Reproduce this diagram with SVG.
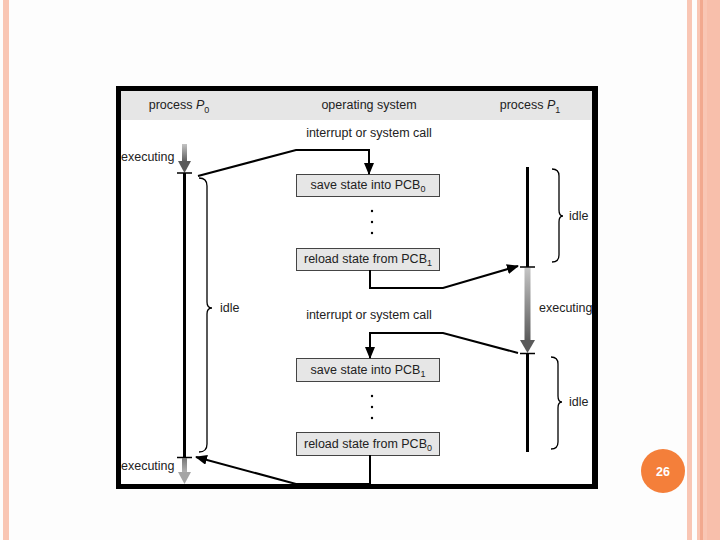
<svg xmlns="http://www.w3.org/2000/svg" width="720" height="540" viewBox="0 0 720 540">
<style>
  text { font-family: "Liberation Sans", Arial, sans-serif; font-size: 12.5px; fill: #222; }
  .mid { text-anchor: middle; }
  .sub { font-size: 9px; }
  .box { fill: #e6e6e6; stroke: #444; stroke-width: 1; }
  .conn { fill: none; stroke: #000; stroke-width: 2; }
  .brace { fill: none; stroke: #000; stroke-width: 1.3; }
  .tl { stroke: #000; stroke-width: 3; }
  .bar { stroke: #000; stroke-width: 1.5; }
</style>
<defs>
  <marker id="ah" markerUnits="userSpaceOnUse" markerWidth="12" markerHeight="10" viewBox="0 0 12 10" refX="11" refY="5" orient="auto">
    <path d="M0,0 L12,5 L0,10 Z" fill="#000"/>
  </marker>
  <linearGradient id="g" x1="0" y1="0" x2="0" y2="1">
    <stop offset="0" stop-color="#c4c4c4"/>
    <stop offset="1" stop-color="#5a5a5a"/>
  </linearGradient>
  <linearGradient id="g2" x1="0" y1="0" x2="0" y2="1">
    <stop offset="0" stop-color="#777"/>
    <stop offset="1" stop-color="#b5b5b5"/>
  </linearGradient>
</defs>

<!-- slide background -->
<rect x="0" y="0" width="720" height="540" fill="#fdfdfd"/>
<rect x="3" y="0" width="6" height="540" fill="#f9c6b4"/>
<rect x="687" y="0" width="5" height="540" fill="#f9c6b4"/>
<rect x="697" y="0" width="23" height="540" fill="#f9c6b4"/>
<rect x="700" y="0" width="3" height="540" fill="#f2a98f"/>
<rect x="707" y="0" width="13" height="540" fill="#f8bfab"/>

<!-- frame -->
<rect x="116" y="86" width="482" height="403" fill="#000"/>
<rect x="121" y="91" width="471" height="393" fill="#fff"/>
<rect x="121" y="91" width="471" height="29" fill="#e6e6e6"/>

<!-- headers -->
<g id="headers">
  <text x="179" y="109" class="mid">process <tspan font-style="italic">P</tspan><tspan class="sub" dy="4">0</tspan></text>
  <text x="369" y="109" class="mid">operating system</text>
  <text x="530" y="109" class="mid">process <tspan font-style="italic">P</tspan><tspan class="sub" dy="4">1</tspan></text>
</g>

<!-- labels -->
<g id="labels">
  <text x="369" y="137" class="mid">interrupt or system call</text>
  <text x="369" y="319" class="mid">interrupt or system call</text>
  <text x="121" y="161">executing</text>
  <text x="121" y="470">executing</text>
  <text x="539" y="312">executing</text>
  <text x="220" y="312">idle</text>
  <text x="569" y="220">idle</text>
  <text x="569" y="406">idle</text>
</g>

<!-- OS boxes -->
<g id="save0">
  <rect x="296.5" y="174.5" width="143" height="22" class="box"/>
  <text x="368" y="189" class="mid">save state into PCB<tspan class="sub" dy="3">0</tspan></text>
</g>
<g id="reload1">
  <rect x="296.5" y="248.5" width="143" height="22" class="box"/>
  <text x="368" y="263" class="mid">reload state from PCB<tspan class="sub" dy="3">1</tspan></text>
</g>
<g id="save1">
  <rect x="296.5" y="358.5" width="143" height="23" class="box"/>
  <text x="368" y="374" class="mid">save state into PCB<tspan class="sub" dy="3">1</tspan></text>
</g>
<g id="reload0">
  <rect x="296.5" y="432.5" width="143" height="23" class="box"/>
  <text x="368" y="448" class="mid">reload state from PCB<tspan class="sub" dy="3">0</tspan></text>
</g>

<!-- dots -->
<g id="dots" fill="#000">
  <circle cx="372" cy="211" r="1.2"/>
  <circle cx="372" cy="222" r="1.2"/>
  <circle cx="372" cy="233" r="1.2"/>
  <circle cx="372" cy="396" r="1.2"/>
  <circle cx="372" cy="407" r="1.2"/>
  <circle cx="372" cy="418" r="1.2"/>
</g>

<!-- timeline P0 -->
<g id="timelineP0">
  <rect x="182" y="144" width="5" height="18" fill="url(#g)"/>
  <path d="M178,161 L191,161 L184.5,173 Z" fill="#5a5a5a"/>
  <line x1="184.5" y1="173" x2="184.5" y2="457" class="tl"/>
  <line x1="177" y1="173" x2="192" y2="173" class="bar"/>
  <line x1="177" y1="457.5" x2="192" y2="457.5" class="bar"/>
  <rect x="182" y="458" width="5" height="15" fill="url(#g2)"/>
  <path d="M178,472 L191,472 L184.5,484 Z" fill="#a5a5a5"/>
  <path d="M199,178 Q207,178 207,186 L207,302 Q207,308 212,308 Q207,308 207,314 L207,444 Q207,452 199,452" class="brace"/>
</g>

<!-- timeline P1 -->
<g id="timelineP1">
  <line x1="527.5" y1="167" x2="527.5" y2="267" class="tl"/>
  <line x1="520" y1="267" x2="535" y2="267" class="bar"/>
  <rect x="524.5" y="268" width="6" height="73" fill="url(#g)"/>
  <path d="M520,340 L535,340 L527.5,353 Z" fill="#5a5a5a"/>
  <line x1="520" y1="353.5" x2="535" y2="353.5" class="bar"/>
  <line x1="527.5" y1="353" x2="527.5" y2="452" class="tl"/>
  <path d="M552,169 Q559,169 559,176 L559,210 Q559,216 563,216 Q559,216 559,222 L559,255 Q559,262 552,262" class="brace"/>
  <path d="M551,357 Q558,357 558,364 L558,396 Q558,402 562,402 Q558,402 558,408 L558,442 Q558,449 551,449" class="brace"/>
</g>

<!-- connectors -->
<g id="connectors">
  <path d="M198,176 L296,150 L369,150 L369,174" class="conn" marker-end="url(#ah)"/>
  <path d="M370,270 L370,288 L443,288 L518,266" class="conn" marker-end="url(#ah)"/>
  <path d="M518,353 L443,333 L370,333 L370,358" class="conn" marker-end="url(#ah)"/>
  <path d="M370,455 L370,484 L296,484 L196,457" class="conn" marker-end="url(#ah)"/>
</g>

<!-- page number -->
<g id="pagenum">
  <circle cx="663" cy="471" r="22" fill="#f47f3a"/>
  <text x="663" y="475.5" class="mid" style="fill:#fff;font-weight:bold;font-size:12.5px">26</text>
</g>
</svg>
